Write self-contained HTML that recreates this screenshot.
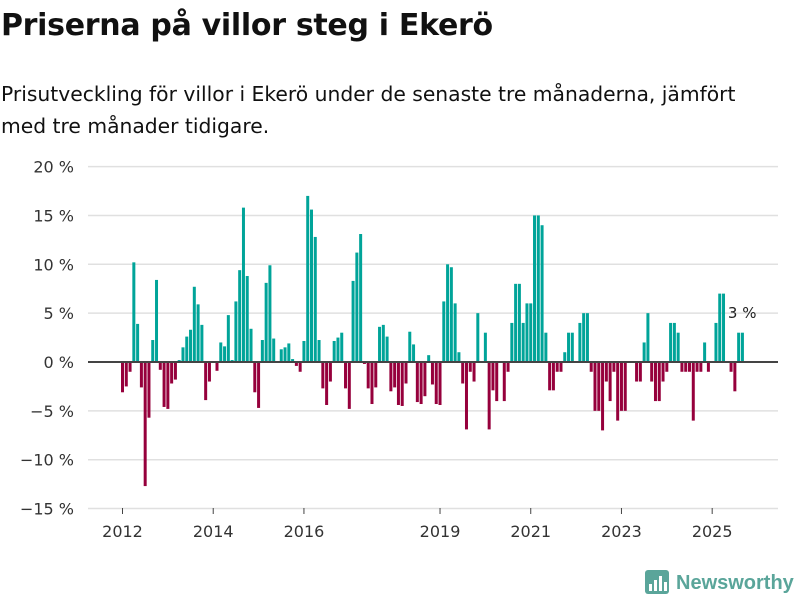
<!DOCTYPE html>
<html><head><meta charset="utf-8"><style>
body{margin:0;background:#fff;font-family:"Liberation Sans","DejaVu Sans",sans-serif;color:#111}
#wrap{position:relative;width:800px;height:600px;overflow:hidden}
h1{position:absolute;left:1px;top:8px;margin:0;font-family:"DejaVu Sans",sans-serif;font-size:30px;font-weight:bold;letter-spacing:-0.3px;white-space:nowrap}
p{position:absolute;left:1px;top:78px;margin:0;font-family:"DejaVu Sans",sans-serif;font-size:20.3px;line-height:32px;width:800px;white-space:nowrap}
</style></head><body>
<div id="wrap">
<h1>Priserna på villor steg i Ekerö</h1>
<p>Prisutveckling för villor i Ekerö under de senaste tre månaderna, jämfört<br>med tre månader tidigare.</p>
<svg id="chart" width="800" height="600" style="position:absolute;left:0;top:0"></svg>
</div>
<script>
const values=[-3.1,-2.5,-1.0,10.2,3.9,-2.6,-12.7,-5.7,2.25,8.4,-0.8,-4.6,-4.8,-2.2,-1.8,0.2,1.5,2.6,3.3,7.7,5.9,3.8,-3.9,-2.0,0,-0.9,2.0,1.6,4.8,0.2,6.2,9.4,15.8,8.8,3.4,-3.1,-4.7,2.25,8.1,9.9,2.4,0,1.3,1.5,1.9,0.3,-0.4,-1.0,2.15,17.0,15.6,12.8,2.25,-2.7,-4.4,-2.0,2.15,2.5,3.0,-2.7,-4.8,8.3,11.2,13.1,-0.2,-2.7,-4.3,-2.6,3.6,3.8,2.6,-3.0,-2.6,-4.4,-4.5,-2.2,3.1,1.8,-4.1,-4.3,-3.5,0.7,-2.3,-4.3,-4.4,6.2,10.0,9.7,6.0,1.0,-2.2,-6.9,-1.0,-2.0,5.0,0,3.0,-6.9,-2.9,-4.0,0,-4.0,-1.0,4.0,8.0,8.0,4.0,6.0,6.0,15.0,15.0,14.0,3.0,-2.9,-2.9,-1.0,-1.0,1.0,3.0,3.0,0,4.0,5.0,5.0,-1.0,-5.0,-5.0,-7.0,-2.0,-4.0,-1.0,-6.0,-5.0,-5.0,0,0,-2.0,-2.0,2.0,5.0,-2.0,-4.0,-4.0,-2.0,-1.0,4.0,4.0,3.0,-1.0,-1.0,-1.0,-6.0,-1.0,-1.0,2.0,-1.0,0,4.0,7.0,7.0,0,-1.0,-3.0,3.0,3.0];
const yTicks=[-15,-10,-5,0,5,10,15,20];
const yTickLabels=["−15 %","−10 %","−5 %","0 %","5 %","10 %","15 %","20 %"];
const xYears=[2012,2014,2016,2019,2021,2023,2025];
const lastLabel="3 %";
const svg=document.getElementById('chart');
const NS='http://www.w3.org/2000/svg';
const y=v=>362-v*9.77;
const x=m=>121+3.78*m;
function mk(t,a){const e=document.createElementNS(NS,t);for(const k in a)e.setAttribute(k,a[k]);svg.appendChild(e);return e;}
yTicks.forEach((t,i)=>{
  if(t!==0){const g=mk('line',{x1:88,x2:778,y1:y(t),y2:y(t),stroke:'#e0e0e0','stroke-width':1.5});
  
  }
  const l=mk('text',{x:74,y:y(t)+6,'text-anchor':'end','font-size':16,fill:'#333','font-family':'DejaVu Sans, sans-serif'});
  l.textContent=yTickLabels[i];
  
  
});
values.forEach((v,m)=>{
  if(v===0)return;
  const r=mk('rect',{x:x(m),width:3,y:Math.min(y(v),y(0)),height:Math.abs(y(v)-y(0)),fill:v>0?'#00a499':'#96003c'});
  
  
});
const z=mk('line',{x1:88,x2:778,y1:y(0),y2:y(0),stroke:'#444','stroke-width':2});


xYears.forEach(yr=>{
  const px=x((yr-2012)*12)+1.5;
  const tk=mk('line',{x1:px,x2:px,y1:508,y2:514,stroke:'#444','stroke-width':1});
  
  
  const t=mk('text',{x:px,y:537,'text-anchor':'middle','font-size':16,fill:'#333','font-family':'DejaVu Sans, sans-serif'});
  t.textContent=yr;
  
  
});
const last=values.length-1;
const ll=mk('text',{x:x(last)-13,y:y(5)+5,'font-size':15,fill:'#222','font-family':'DejaVu Sans, sans-serif'});
ll.textContent=lastLabel;


const logo=mk('g',{});


const icon=document.createElementNS(NS,'rect');
icon.setAttribute('x',645);icon.setAttribute('y',570);icon.setAttribute('width',24);icon.setAttribute('height',24);icon.setAttribute('rx',3);icon.setAttribute('fill','#5aa59a');
logo.appendChild(icon);
[[649,584,3,7],[654,580,3,11],[659,576,3,15],[664,582,3,9]].forEach(b=>{const r=document.createElementNS(NS,'rect');r.setAttribute('x',b[0]);r.setAttribute('y',b[1]);r.setAttribute('width',b[2]);r.setAttribute('height',b[3]);r.setAttribute('fill','#fff');logo.appendChild(r);});
const lt=document.createElementNS(NS,'text');
lt.setAttribute('x',676);lt.setAttribute('y',589);lt.setAttribute('font-size',20);lt.setAttribute('font-weight','bold');lt.setAttribute('fill','#5aa59a');lt.setAttribute('font-family','Liberation Sans, sans-serif');
lt.textContent='Newsworthy';
logo.appendChild(lt);
</script>
</body></html>
